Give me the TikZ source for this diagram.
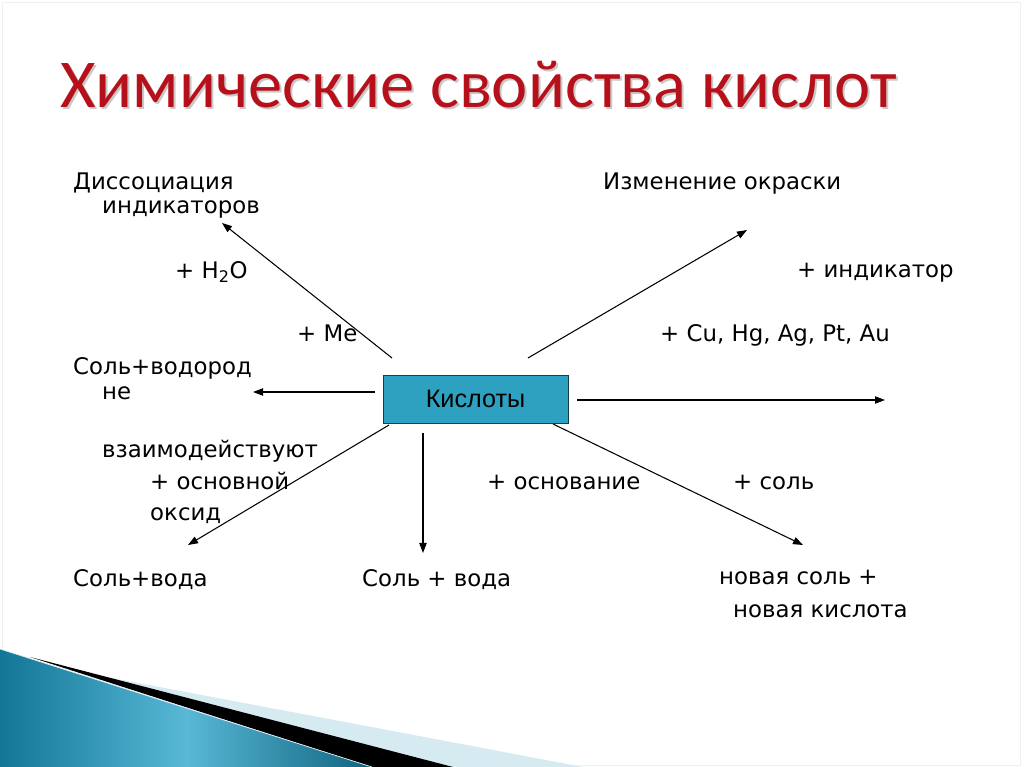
\documentclass[tikz,border=0pt]{standalone}
\usepackage{fontspec}
\setmainfont{DejaVu Sans}
\newfontfamily\titlefont{Carlito}
\newfontfamily\boxfont{Liberation Sans}
\usetikzlibrary{arrows.meta,positioning,calc}
\definecolor{titlered}{RGB}{182,16,26}
\definecolor{acidfill}{RGB}{46,160,192}
\definecolor{acidedge}{RGB}{30,60,70}
\definecolor{paleblue}{RGB}{214,234,242}
\definecolor{deepteal}{RGB}{18,118,150}
\definecolor{lightteal}{RGB}{88,184,214}
\tikzset{
  lbl/.style={anchor=base west,inner sep=0pt,font=\fontsize{19.5}{23}\selectfont},
  rxn/.style={line width=0.9pt,-{Triangle[length=3mm,width=2.2mm]}},
}

\begin{document}
\begin{tikzpicture}[x=0.03cm,y=-0.03cm]
  \useasboundingbox (0,0) rectangle (1024,767);
  \fill[white] (0,0) rectangle (1024,767);
  \draw[gray!12,line width=0.6pt] (2,2) rectangle (1020,765); % рамка слайда
  % полосы внизу слева
  \fill[paleblue] (80,672) -- (583,767) -- (453,767) -- cycle;
  \fill[black] (30,657) -- (453,767) -- (372,767) -- cycle;
  \shade[left color=deepteal,right color=deepteal!85!black,middle color=lightteal]
    (0,649) -- (372,767) -- (0,767) -- cycle;
  \draw[paleblue!70!white,line width=0.6pt] (0,649) -- (372,767);
  % заголовок
  \node[anchor=base west,inner sep=0pt,font=\titlefont\fontsize{58.5}{62}\selectfont,text=black!35,opacity=0.6] at (62,110){Химические свойства кислот};
  \node[anchor=base west,inner sep=0pt,font=\titlefont\fontsize{58.5}{62}\selectfont,text=titlered] (title) at (60,108){Химические свойства кислот};
  % центральный блок
  \node[draw=acidedge,fill=acidfill,line width=0.8pt,minimum width=5.55cm,minimum height=1.44cm,inner sep=0pt,font=\boxfont\fontsize{21.5}{24}\selectfont] (acid) at (475.5,399){Кислоты};
  % подписи
  \node[lbl] (dis1) at (73,190){Диссоциация};
  \node[lbl] (dis2) at (102,214){индикаторов};
  \node[lbl] (water) at (175,279){+ H\textsubscript{2}O};
  \node[lbl] (metal) at (297,342){+ Me};
  \node[lbl] (salth1) at (73,375){Соль+водород};
  \node[lbl] (noreact1) at (102,400){не};
  \node[lbl] (noreact2) at (102,458){взаимодействуют};
  \node[lbl] (oxide1) at (150,490){+ основной};
  \node[lbl] (oxide2) at (150,521){оксид};
  \node[lbl] (saltw1) at (73,587){Соль+вода};
  \node[lbl] (saltw2) at (362,587){Соль + вода};
  \node[lbl] (base) at (487,490){+ основание};
  \node[lbl] (salt) at (733,490){+ соль};
  \node[lbl] (newsalt1) at (719,585){новая соль +};
  \node[lbl] (newsalt2) at (733,617){новая кислота};
  \node[lbl] (colour) at (603,190){Изменение окраски};
  \node[lbl] (indic) at (797,278){+ индикатор};
  \node[lbl] (nobles) at (660,342){+ Cu, Hg, Ag, Pt, Au};
  % концы стрелок
  \coordinate (a1s) at (392,358); \coordinate (a1e) at (222,223);
  \coordinate (a2s) at (528,358); \coordinate (a2e) at (747,230);
  \coordinate (a3s) at (375,392); \coordinate (a3e) at (253,392);
  \coordinate (a4s) at (577,400); \coordinate (a4e) at (885,400);
  \coordinate (a5s) at (389,425); \coordinate (a5e) at (188,545);
  \coordinate (a6s) at (423,433); \coordinate (a6e) at (423,553);
  \coordinate (a7s) at (553,424); \coordinate (a7e) at (803,545);
  \foreach \k in {1,...,7}{\draw[rxn] (a\k s) -- (a\k e);}
\end{tikzpicture}
\end{document}
